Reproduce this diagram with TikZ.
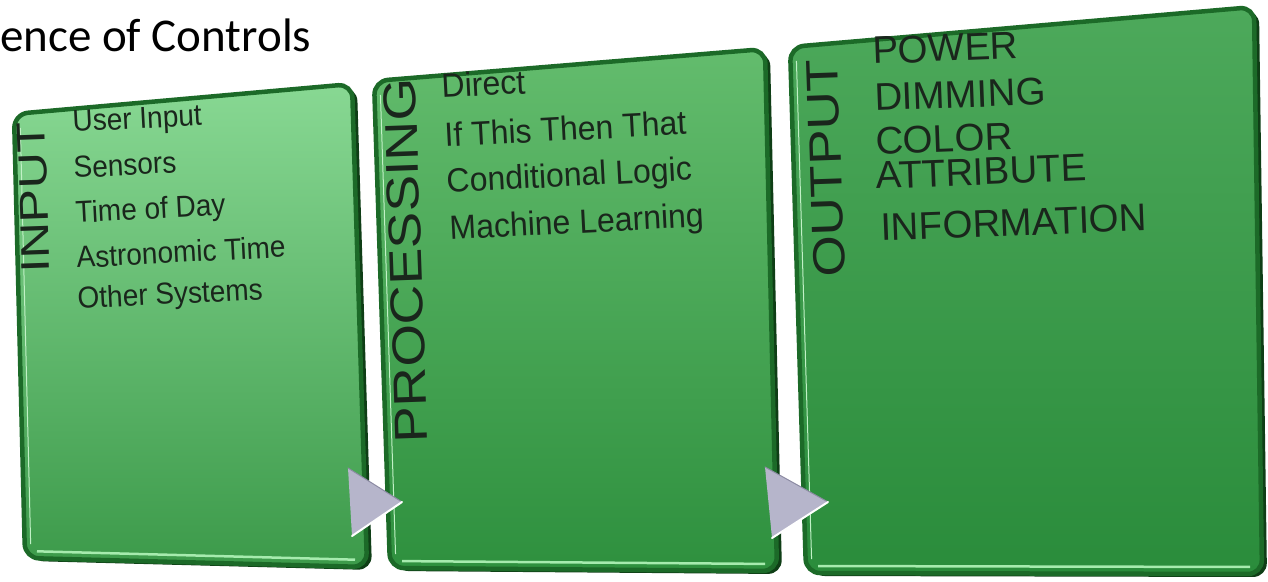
\documentclass[tikz,border=0pt]{standalone}
\usepackage{fontspec}
\setmainfont{Liberation Sans}
\newfontfamily\titlefont{Carlito}
\definecolor{rimgreen}{HTML}{1C6A28}
\definecolor{sidegreen}{HTML}{0F3E16}
\definecolor{glowgreen}{HTML}{A6EBAE}
\definecolor{inkgreen}{HTML}{1A261C}
\definecolor{arrowgray}{HTML}{B6B5CB}
\definecolor{arrowdark}{HTML}{8C8BA3}
\definecolor{p1top}{HTML}{88D893}
\definecolor{p1bot}{HTML}{3C9A4A}
\definecolor{p2top}{HTML}{63BC6D}
\definecolor{p2bot}{HTML}{2E903E}
\definecolor{p3top}{HTML}{4DA95B}
\definecolor{p3bot}{HTML}{2A8C3B}

% a bevelled green slab given by its four corners and its two face colours
\newcommand{\greenslab}[6]{%
  \fill[sidegreen, rounded corners=14pt, shift={(5,3)}] (#1) -- (#2) -- (#3) -- (#4) -- cycle;
  \shade[rounded corners=14pt, top color=#5, bottom color=#6] (#1) -- (#2) -- (#3) -- (#4) -- cycle;
  \draw[rimgreen, line width=4.5pt, rounded corners=14pt] (#1) -- (#2) -- (#3) -- (#4) -- cycle;
  \draw[glowgreen, line width=2.5pt, shift={(0,-7)}, shorten <=12pt, shorten >=12pt] (#4) -- (#3);
  \draw[glowgreen!70!white, line width=1pt, shift={(6,0)}, shorten <=14pt, shorten >=14pt] (#1) -- (#4);
}

\begin{document}
\begin{tikzpicture}[x=1pt,y=-1pt,
  item/.style={anchor=base west, inner sep=0pt, text=inkgreen},
  itemA/.style={item, rotate=3, font=\fontsize{28}{28}\selectfont, yscale=1.08},
  itemB/.style={item, rotate=3, font=\fontsize{32}{32}\selectfont, yscale=1.05},
  itemC/.style={item, rotate=2.2, font=\fontsize{38.5}{38.5}\selectfont},
  heading/.style={anchor=base west, inner sep=0pt, text=inkgreen, rotate=92},
  arrowbody/.style={fill=arrowgray},
  arrowlit/.style={white, line width=2pt, line cap=round},
  arrowrim/.style={arrowdark, line width=1pt, line cap=round}]

% page
\fill[white] (0,0) rectangle (1268,581);
\useasboundingbox (0,0) rectangle (1268,581);

% heading line
\node[anchor=base west, inner sep=0pt, font=\titlefont\fontsize{47}{47}\selectfont] (ttl) at (0,51) {ence of Controls};

% the three slabs
\greenslab{14,114}{352,84}{367,567}{25,558}{p1top}{p1bot}
\greenslab{374,81}{765,49}{777,571}{390,568}{p2top}{p2bot}
\greenslab{790,47}{1254,7}{1262,574}{806,573}{p3top}{p3bot}

% INPUT slab
\node[heading, xscale=1.26, font=\fontsize{40}{40}\selectfont] (tin) at (50,273) {INPUT};
\node[itemA] (i1) at (73,132) {User Input};
\node[itemA] (i2) at (74,178) {Sensors};
\node[itemA] (i3) at (76,223) {Time of Day};
\node[itemA] (i4) at (77,268) {Astronomic Time};
\node[itemA] (i5) at (78,309) {Other Systems};

% PROCESSING slab
\node[heading, xscale=1.19, font=\fontsize{46}{46}\selectfont] (tproc) at (428,443) {PROCESSING};
\node[itemB] (p1) at (442,98) {Direct};
\node[itemB] (p2) at (445,147) {If This Then That};
\node[itemB] (p3) at (447,193) {Conditional Logic};
\node[itemB] (p4) at (450,240) {Machine Learning};

% OUTPUT slab
\node[heading, xscale=1.18, font=\fontsize{45}{45}\selectfont] (tout) at (845,277) {OUTPUT};
\node[itemC] (o1) at (873,64) {POWER};
\node[itemC] (o2) at (875,111) {DIMMING};
\node[itemC] (o3) at (876,155) {COLOR};
\node[itemC] (o4) at (876,189) {ATTRIBUTE};
\node[itemC] (o5) at (881,241) {INFORMATION};

% flow arrows between the slabs
\coordinate (a1t) at (348,468);
\coordinate (a1p) at (402,502);
\coordinate (a1b) at (352,536);
\fill[arrowbody] (a1t) -- (a1p) -- (a1b) -- cycle;
\draw[arrowrim] (a1t) -- (a1p);
\draw[arrowlit] (a1p) -- (a1b);

\coordinate (a2t) at (765,467);
\coordinate (a2p) at (828,502);
\coordinate (a2b) at (772,538);
\fill[arrowbody] (a2t) -- (a2p) -- (a2b) -- cycle;
\draw[arrowrim] (a2t) -- (a2p);
\draw[arrowlit] (a2p) -- (a2b);
\end{tikzpicture}
\end{document}
